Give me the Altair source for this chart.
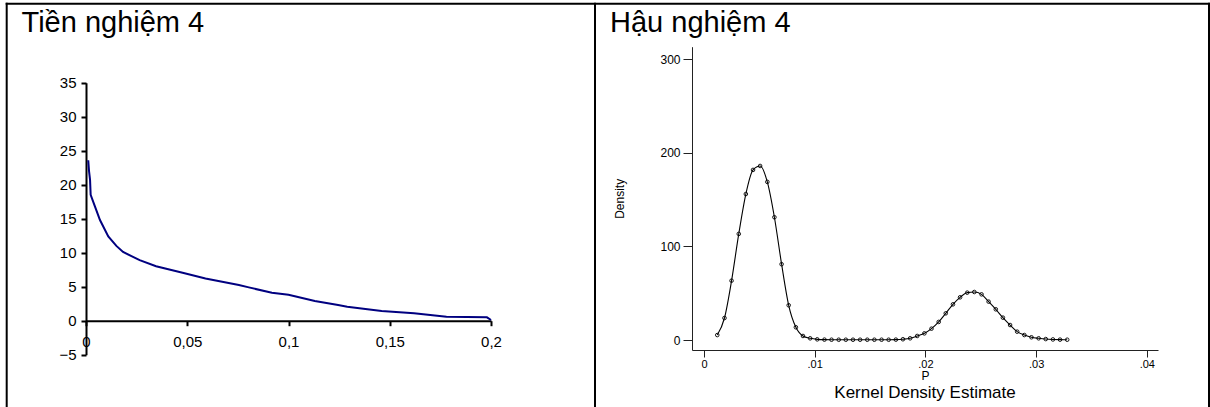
import altair as alt
import pandas as pd

# ---------------- data ----------------
prior_x = [0.0011, 0.0015, 0.0020, 0.0023, 0.0044, 0.0069, 0.0110, 0.0150, 0.0183,
           0.0265, 0.0346, 0.0477, 0.0590, 0.0755, 0.0804, 0.0918, 0.1000, 0.1130,
           0.1245, 0.1290, 0.1460, 0.1620, 0.1780, 0.1980, 0.2000]
prior_y = [23.6, 22.0, 20.7, 18.5, 16.8, 14.8, 12.4, 11.0, 10.1,
           8.9, 8.0, 7.06, 6.2, 5.25, 4.9, 4.1, 3.8, 2.9,
           2.3, 2.06, 1.43, 1.08, 0.59, 0.5, 0.1]

post_x = [0.00120, 0.00185, 0.00249, 0.00314, 0.00378, 0.00443, 0.00507, 0.00572, 0.00636, 0.00701,
          0.00765, 0.00830, 0.00894, 0.00959, 0.01023, 0.01088, 0.01152, 0.01217, 0.01281, 0.01346,
          0.01410, 0.01475, 0.01539, 0.01604, 0.01668, 0.01733, 0.01797, 0.01862, 0.01926, 0.01991,
          0.02055, 0.02120, 0.02184, 0.02249, 0.02313, 0.02378, 0.02442, 0.02507, 0.02571, 0.02636,
          0.02700, 0.02765, 0.02829, 0.02894, 0.02958, 0.03023, 0.03087, 0.03152, 0.03216, 0.03281]
post_y = [5.3, 23.5, 63.4, 113.4, 156.0, 181.8, 186.0, 169.0, 131.2, 81.0,
          37.1, 13.6, 4.3, 1.8, 0.7, 0.4, 0.3, 0.3, 0.3, 0.3,
          0.3, 0.3, 0.3, 0.3, 0.3, 0.4, 0.8, 1.8, 4.3, 7.1,
          12.1, 19.3, 28.5, 38.1, 45.6, 50.6, 51.3, 48.8, 41.0, 32.8,
          23.9, 16.0, 8.9, 5.3, 2.9, 1.8, 1.0, 0.6, 0.4, 0.3]

left_title = "Tiền nghiệm 4"
right_title = "Hậu nghiệm 4"
left_xticks = [0, 0.05, 0.1, 0.15, 0.2]
left_yticks = [-5, 0, 5, 10, 15, 20, 25, 30, 35]
right_xticks = [0, 0.01, 0.02, 0.03, 0.04]
right_yticks = [0, 100, 200, 300]

# ---------------- layout (pixels) ----------------
W, H = 1210, 407
FONT = "Liberation Sans"

# left panel
L_X0, L_X1 = 86, 491          # x=0 .. x=0.2
L_Y_BOT, L_Y_TOP = 354.7, 82.7  # y=-5 .. y=35
L_ZERO_Y = 320.7

# right panel
R_AX_X = 692                   # y-axis position
R_AX_Y = 350                   # x-axis position
R_X_ZERO, R_PX_PER = 704, 11070.0
R_X_RIGHT = 1158
R_Y_ZERO, R_Y_300 = 340.0, 59.3
R_Y_TOP = 46.7
r_ppu = (R_Y_ZERO - R_Y_300) / 300.0
r_xdom = [(R_AX_X - R_X_ZERO) / R_PX_PER, (R_X_RIGHT - R_X_ZERO) / R_PX_PER]
r_ydom = [(R_Y_ZERO - R_AX_Y) / r_ppu, (R_Y_ZERO - R_Y_TOP) / r_ppu]

prior_df = pd.DataFrame({"x": prior_x, "y": prior_y})
post_df = pd.DataFrame({"p": post_x, "d": post_y})

left_line = alt.Chart(prior_df).mark_line(color="#000080", strokeWidth=2).encode(
    x=alt.X("x:Q",
            scale=alt.Scale(domain=[0, 0.2], range=[L_X0, L_X1], nice=False, zero=False),
            axis=alt.Axis(orient="bottom", offset=L_ZERO_Y - H, values=left_xticks,
                          labelExpr="replace(toString(datum.value), '.', ',')",
                          title=None, grid=False, domainColor="black", domainWidth=2,
                          tickColor="black", tickWidth=2, tickSize=5, labelFontSize=15,
                          labelFont=FONT, labelColor="black", labelPadding=9,
                          labelFlush=False, labelOverlap=False)),
    y=alt.Y("y:Q",
            scale=alt.Scale(domain=[-5, 35], range=[L_Y_BOT, L_Y_TOP], nice=False, zero=False),
            axis=alt.Axis(orient="left", offset=-L_X0, values=left_yticks, title=None,
                          grid=False, domainColor="black", domainWidth=2, tickColor="black",
                          tickWidth=2, tickSize=5, labelFontSize=15, labelFont=FONT,
                          labelColor="black", labelPadding=5, labelFlush=False,
                          labelOverlap=False)),
)

rx_scale = alt.Scale(domain=r_xdom, range=[R_AX_X, R_X_RIGHT], nice=False, zero=False)
ry_scale = alt.Scale(domain=r_ydom, range=[R_AX_Y, R_Y_TOP], nice=False, zero=False)

right_line = alt.Chart(post_df).mark_line(color="black", strokeWidth=1.1,
                                          interpolate="monotone").encode(
    x=alt.X("p:Q", scale=rx_scale,
            axis=alt.Axis(orient="bottom", offset=R_AX_Y - H, values=right_xticks,
                          labelExpr="datum.value == 0 ? '0' : replace(format(datum.value, '.2f'), '0.', '.')",
                          title="P", titleFont=FONT, titleFontSize=12, titleFontWeight="normal",
                          titleColor="black", titlePadding=1,
                          grid=False, domainColor="#222", domainWidth=1, tickColor="#222",
                          tickWidth=1, tickSize=7, labelFontSize=11, labelFont=FONT,
                          labelColor="black", labelPadding=1, labelFlush=False,
                          labelOverlap=False)),
    y=alt.Y("d:Q", scale=ry_scale,
            axis=alt.Axis(orient="left", offset=-R_AX_X, values=right_yticks,
                          title="Density", titleFont=FONT, titleFontSize=12,
                          titleFontWeight="normal", titleColor="black", titlePadding=33,
                          grid=False, domainColor="#222", domainWidth=1, tickColor="#222",
                          tickWidth=1, tickSize=9, labelFontSize=12, labelFont=FONT,
                          labelColor="black", labelPadding=3, labelFlush=False,
                          labelOverlap=False)),
)

right_pts = alt.Chart(post_df).mark_point(shape="circle", filled=False, color="black",
                                          size=13, strokeWidth=0.9, opacity=1).encode(
    x=alt.X("p:Q", scale=rx_scale, axis=None),
    y=alt.Y("d:Q", scale=ry_scale, axis=None),
)

one = pd.DataFrame({"k": [0]})

def hrule(x1, x2, y):
    return alt.Chart(one).mark_rule(color="black", strokeWidth=2).encode(
        x=alt.value(x1), x2=alt.value(x2), y=alt.value(y))

def vrule(x, y1, y2):
    return alt.Chart(one).mark_rule(color="black", strokeWidth=2).encode(
        x=alt.value(x), y=alt.value(y1), y2=alt.value(y2))

def label(txt, x, y, size, align="left"):
    return alt.Chart(one).mark_text(text=txt, font=FONT, fontSize=size, color="black",
                                    align=align, baseline="alphabetic").encode(
        x=alt.value(x), y=alt.value(y))

decor = [
    hrule(5.7, 1210, 3.7),
    vrule(6.7, 2.7, 410),
    vrule(595, 2.7, 410),
    vrule(1209, 2.7, 410),
    label(left_title, 21.5, 32.3, 29),
    label(right_title, 610, 32.3, 29),
    label("Kernel Density Estimate", 925, 398, 17, align="center"),
]

chart = alt.layer(left_line, right_line, right_pts, *decor).resolve_scale(
    x="independent", y="independent"
).properties(
    width=W, height=H, padding=0, autosize=alt.AutoSizeParams(type="none"),
    background="white"
).configure_view(strokeWidth=0)

chart.save("out.html", embed_options={"renderer": "svg", "actions": False})
